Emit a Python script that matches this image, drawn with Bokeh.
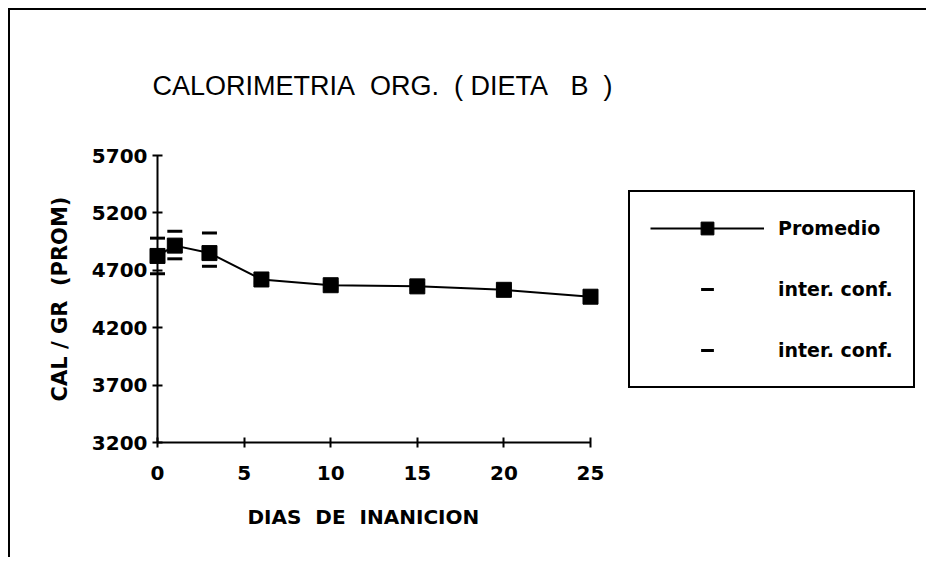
from bokeh.plotting import figure
from bokeh.models import (ColumnDataSource, FixedTicker, Legend, LegendItem, Range1d, Title)
from bokeh.embed import file_html
from bokeh.resources import INLINE

# ---- data ----
dias = [0, 1, 3, 6, 10, 15, 20, 25]
promedio = [4825, 4915, 4850, 4620, 4570, 4560, 4530, 4470]
conf_sup = [4980, 5040, 5025, 4650, 4595, 4585, 4555, 4495]
conf_inf = [4670, 4800, 4735, 4590, 4545, 4535, 4505, 4445]
x_ticks = [0, 5, 10, 15, 20, 25]
y_ticks = [3200, 3700, 4200, 4700, 5200, 5700]

NB = "\u00a0"
title_text = f"CALORIMETRIA{NB}{NB}ORG.{NB}{NB}({NB}DIETA{NB}{NB}{NB}B{NB}{NB})"
x_label = f"DIAS{NB}{NB}DE{NB}{NB}INANICION"
y_label = f"CAL / GR{NB}{NB}(PROM)"

src = ColumnDataSource(dict(x=dias, y=promedio, hi=conf_sup, lo=conf_inf))

# layout in pixels (frame extends to the right so the legend box sits inside it)
LEFT, RIGHT, TOP, BOTTOM = 147, 13, 145, 117
W, H = 918, 549
AXIS_PX = 433                      # pixel length of the 0..25 day axis
frame_w = W - LEFT - RIGHT
x_end = x_ticks[-1] * frame_w / AXIS_PX

p = figure(width=W, height=H, output_backend="svg", toolbar_location=None,
           x_range=Range1d(0, x_end), y_range=Range1d(3200, 5700))
p.min_border_left = LEFT
p.min_border_right = RIGHT
p.min_border_top = TOP
p.min_border_bottom = BOTTOM
p.outline_line_color = None
p.grid.visible = False
p.background_fill_color = "white"
p.border_fill_color = "white"
p.styles = {"margin-left": "8px", "margin-top": "8px",
            "border-left": "2px solid black", "border-top": "2px solid black"}

tick_font = "DejaVu Sans"
for ax in (p.xaxis[0], p.yaxis[0]):
    ax.axis_line_width = 2
    ax.axis_line_color = "black"
    ax.major_tick_line_width = 2
    ax.major_tick_line_color = "black"
    ax.major_tick_in = 5
    ax.major_tick_out = 5
    ax.minor_tick_line_color = None
    ax.major_label_text_font = tick_font
    ax.major_label_text_font_style = "bold"
    ax.major_label_text_font_size = "20px"
    ax.major_label_text_color = "black"
    ax.axis_label_text_font = tick_font
    ax.axis_label_text_font_style = "bold"
    ax.axis_label_text_color = "black"

p.xaxis.ticker = FixedTicker(ticks=x_ticks)
p.yaxis.ticker = FixedTicker(ticks=y_ticks)
p.xaxis.bounds = (x_ticks[0], x_ticks[-1])
p.yaxis.bounds = (y_ticks[0], y_ticks[-1])
p.xaxis.major_label_standoff = 18
p.yaxis.major_label_standoff = 5
p.yaxis.axis_label = y_label
p.yaxis.axis_label_text_font_size = "21px"
p.yaxis.axis_label_standoff = 17

r_hi = p.scatter("x", "hi", source=src, marker="dash", size=15, line_width=3, color="black")
r_lo = p.scatter("x", "lo", source=src, marker="dash", size=15, line_width=3, color="black")
r_line = p.line("x", "y", source=src, line_width=2, color="black")
r_sq = p.scatter("x", "y", source=src, marker="square", size=15, color="black")
for r in (r_hi, r_lo, r_line, r_sq):
    r.level = "overlay"

legend = Legend(items=[
    LegendItem(label="Promedio", renderers=[r_line, r_sq]),
    LegendItem(label="inter. conf.", renderers=[r_hi]),
    LegendItem(label="inter. conf.", renderers=[r_lo]),
], location=(471, 54))
legend.margin = 0
legend.padding = 20
legend.glyph_width = 114
legend.glyph_height = 32
legend.label_height = 32
legend.spacing = 29
legend.label_standoff = 14
legend.label_text_font = tick_font
legend.label_text_font_style = "bold"
legend.label_text_font_size = "19px"
legend.label_text_color = "black"
legend.border_line_color = "black"
legend.border_line_alpha = 1
legend.border_line_width = 2
legend.background_fill_alpha = 1
p.add_layout(legend, "center")

# x-axis title, placed under the 0..25 axis (the frame is wider than the axis)
xt = Title(text=x_label, align="left", offset=90, text_font=tick_font,
           text_font_style="bold", text_font_size="20px", text_color="black",
           standoff=40)
p.add_layout(xt, "below")

p.title.text = title_text
p.title.text_font = "Liberation Sans"
p.title.text_font_size = "27px"
p.title.text_font_style = "normal"
p.title.text_color = "black"
p.title.align = "left"
p.title.offset = -5
p.title.standoff = 110

open("out.html", "w").write(file_html(p, INLINE))
